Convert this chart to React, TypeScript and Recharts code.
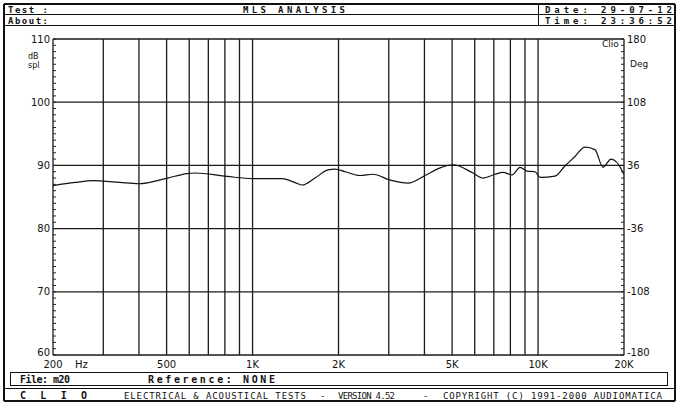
import { LineChart, Line, XAxis, YAxis, ReferenceLine } from "recharts";

// measured response (Hz / dB spl)
const freqs = [200, 239, 276, 300, 343, 400, 505, 589, 628, 814, 1000, 1268, 1442, 1490, 1655, 1838, 1944, 2108, 2378, 2642, 3027, 3502, 4018, 4536, 5035, 5917, 6413, 7064, 7534, 8106, 8650, 9146, 9755, 10160, 11460, 12420, 13460, 14590, 15820, 16880, 18010, 19680, 20000];
const spl = [86.8, 87.3, 87.6, 87.5, 87.3, 87.1, 88.0, 88.7, 88.8, 88.25, 87.9, 87.9, 87.1, 86.9, 88.0, 89.3, 89.4, 89.0, 88.4, 88.6, 87.7, 87.2, 88.4, 89.6, 90.1, 88.8, 88.0, 88.6, 88.9, 88.5, 89.7, 89.1, 89.0, 88.1, 88.3, 89.9, 91.4, 92.9, 92.5, 89.7, 91.0, 89.2, 88.5];

const gridFreqs = [200, 300, 400, 500, 600, 700, 800, 900, 1000, 2000, 3000, 4000, 5000, 6000, 7000, 8000, 9000, 10000, 20000];
const freqLabels: Record<number, string> = { 200: "200", 500: "500", 1000: "1K", 2000: "2K", 5000: "5K", 10000: "10K", 20000: "20K" };
const dbLines = [60, 70, 80, 90, 100, 110];
const degLabels = [-180, -108, -36, 36, 108, 180];

const data = freqs.map((f, i) => ({ f, spl: spl[i] }));

// minor ticks: 1 dB steps on the left, 7.2 deg steps on the right
const dbTicks = Array.from({ length: 51 }, (_, i) => 60 + i);
const degTicks = Array.from({ length: 51 }, (_, i) => -180 + i * 7.2);

const axisFont = "'DejaVu Sans', Verdana, sans-serif";
const termFont = "'DejaVu Sans Mono', 'Liberation Mono', monospace";

const FreqTick = (props: any) => {
  const { x, y, payload } = props;
  const label = freqLabels[payload.value];
  if (!label) return null;
  return (
    <text x={x} y={y + 13} textAnchor="middle" fontSize={10} fontFamily={axisFont} fill="#111">
      {label}
    </text>
  );
};

const DbTick = (props: any) => {
  const { x, y, payload } = props;
  const v = payload.value;
  return (
    <g>
      <line x1={x + 3} x2={x + 6} y1={y} y2={y} stroke="#222" strokeWidth={1} />
      {v % 10 === 0 && (
        <text x={x} y={y + (v === 60 ? 1 : 3.5)} textAnchor="end" fontSize={10} fontFamily={axisFont} fill="#111">
          {v}
        </text>
      )}
    </g>
  );
};

const DegTick = (props: any) => {
  const { x, y, payload } = props;
  const v = Math.round(payload.value * 10) / 10;
  return (
    <g>
      <line x1={x - 6} x2={x - 3} y1={y} y2={y} stroke="#222" strokeWidth={1} />
      {degLabels.includes(v) && (
        <text x={x} y={y + (v === -180 ? 1 : 3.5)} textAnchor="start" fontSize={10} fontFamily={axisFont} fill="#111">
          {v}
        </text>
      )}
    </g>
  );
};

function Frame() {
  return (
    <svg width={680} height={405} style={{ position: "absolute", left: 0, top: 0, pointerEvents: "none" }}>
      {/* outer border */}
      <line x1={4} x2={4} y1={4} y2={401} stroke="#111" strokeWidth={2} />
      <line x1={675} x2={675} y1={4} y2={401} stroke="#111" strokeWidth={2} />
      <line x1={4} x2={675} y1={4} y2={4} stroke="#111" strokeWidth={2} />
      <line x1={4} x2={675} y1={401} y2={401} stroke="#111" strokeWidth={2} />
      {/* header */}
      <line x1={4} x2={675} y1={14.5} y2={14.5} stroke="#111" strokeWidth={1} />
      <line x1={4} x2={675} y1={25.5} y2={25.5} stroke="#111" strokeWidth={1} />
      <line x1={538.5} x2={538.5} y1={4} y2={25} stroke="#111" strokeWidth={1} />
      <g fontFamily={termFont} fontWeight="bold" fontSize={9} fill="#111">
        <text x={8} y={12.5} textLength={40} lengthAdjust="spacing">Test :</text>
        <text x={8} y={23.5} textLength={40} lengthAdjust="spacing">About:</text>
        <text x={243} y={12.5} textLength={102} lengthAdjust="spacing">MLS ANALYSIS</text>
        <text x={545} y={12.5} textLength={127} lengthAdjust="spacing">Date: 29-07-12</text>
        <text x={545} y={23.5} textLength={127} lengthAdjust="spacing">Time: 23:36:52</text>
      </g>
      {/* axis captions */}
      <g fontFamily={axisFont} fontSize={8} fill="#111">
        <text x={28} y={59}>dB</text>
        <text x={28} y={68}>spl</text>
        <text x={630} y={67} fontSize={9}>Deg</text>
        <text x={602} y={47} fontSize={9}>Clio</text>
        <text x={75} y={368} fontSize={10}>Hz</text>
      </g>
      {/* footer */}
      <rect x={10.5} y={372.5} width={657} height={13} fill="none" stroke="#111" strokeWidth={1} />
      <line x1={4} x2={675} y1={388.5} y2={388.5} stroke="#111" strokeWidth={1} />
      <g fontFamily={termFont} fontWeight="bold" fontSize={10} fill="#111">
        <text x={20} y={383} textLength={50} lengthAdjust="spacing">File: m20</text>
        <text x={148} y={383} textLength={127} lengthAdjust="spacing">Reference: NONE</text>
        <text x={20} y={399} textLength={67} lengthAdjust="spacing">C L I O</text>
      </g>
      <g fontFamily={termFont} fontSize={9} fill="#111">
        <text x={124} y={399} textLength={182} lengthAdjust="spacing">ELECTRICAL &amp; ACOUSTICAL TESTS</text>
        <text x={320} y={399}>-</text>
        <text x={338} y={399} textLength={57} lengthAdjust="spacing">VERSION 4.52</text>
        <text x={423} y={399}>-</text>
        <text x={443} y={399} textLength={219} lengthAdjust="spacing">COPYRIGHT (C) 1991-2000 AUDIOMATICA</text>
      </g>
    </svg>
  );
}

export default function App() {
  return (
    <div style={{ position: "absolute", left: 0, top: 0, width: 680, height: 405, background: "#fff" }}>
      <LineChart
        width={680}
        height={405}
        data={data}
        margin={{ top: 39, right: 16, bottom: 30, left: 13 }}
        style={{ position: "absolute", left: 0, top: 0 }}
      >
        <XAxis
          dataKey="f"
          type="number"
          scale="log"
          domain={[200, 20000]}
          ticks={gridFreqs}
          interval={0}
          allowDataOverflow
          axisLine={false}
          tickLine={false}
          tickSize={0}
          tickMargin={0}
          height={20}
          tick={<FreqTick />}
        />
        <YAxis
          yAxisId="db"
          orientation="left"
          domain={[60, 110]}
          ticks={dbTicks}
          interval={0}
          allowDataOverflow
          axisLine={false}
          tickLine={false}
          tickSize={0}
          tickMargin={3}
          width={40}
          tick={<DbTick />}
        />
        <YAxis
          yAxisId="deg"
          orientation="right"
          domain={[-180, 180]}
          ticks={degTicks}
          interval={0}
          allowDataOverflow
          axisLine={false}
          tickLine={false}
          tickSize={0}
          tickMargin={3}
          width={40}
          tick={<DegTick />}
        />
        {gridFreqs.map((f) => (
          <ReferenceLine key={`v${f}`} x={f} yAxisId="db" stroke="#1a1a1a" strokeWidth={1.3} />
        ))}
        {dbLines.map((v) => (
          <ReferenceLine key={`h${v}`} y={v} yAxisId="db" stroke="#1a1a1a" strokeWidth={1.3} />
        ))}
        <Line
          yAxisId="db"
          dataKey="spl"
          type="monotone"
          stroke="#111"
          strokeWidth={1.2}
          dot={false}
          isAnimationActive={false}
        />
      </LineChart>
      <Frame />
    </div>
  );
}
